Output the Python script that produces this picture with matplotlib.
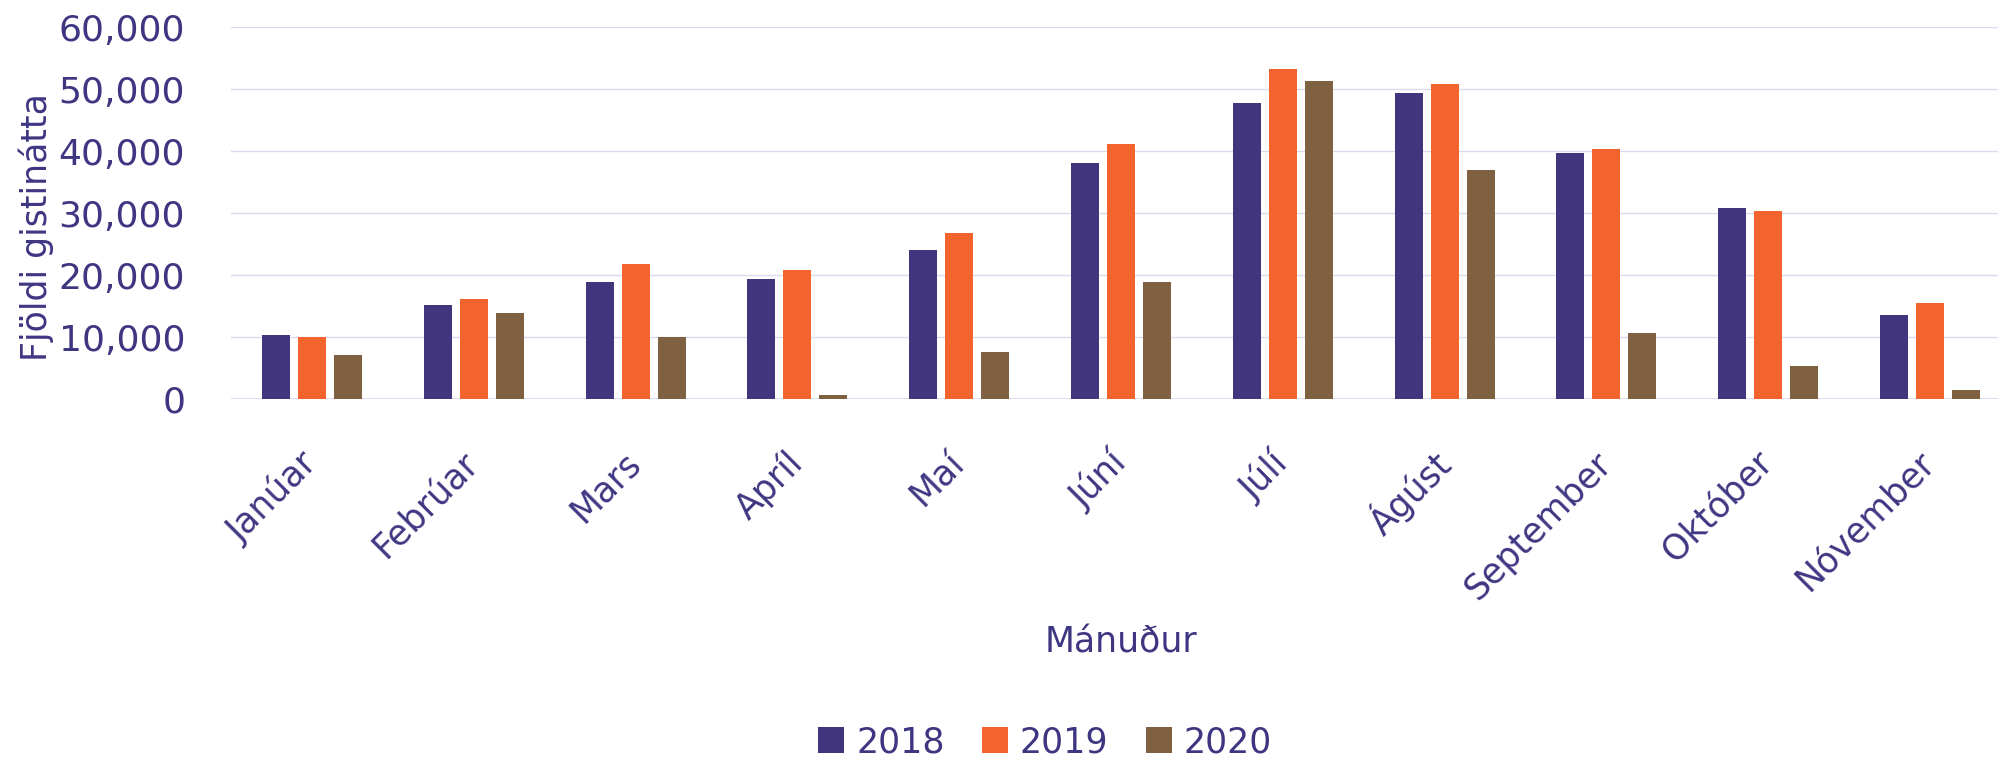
import matplotlib
matplotlib.use("Agg")
import matplotlib.pyplot as plt
import numpy as np
from matplotlib.ticker import FuncFormatter

months = ["Janúar", "Febrúar", "Mars", "Apríl", "Maí", "Júní", "Júlí",
          "Ágúst", "September", "Október", "Nóvember"]
years = ["2018", "2019", "2020"]
v2018 = [10450, 15250, 19000, 19400, 24100, 38100, 47800, 49350, 39700, 30800, 13650]
v2019 = [10100, 16100, 21900, 20900, 26800, 41100, 53200, 50800, 40300, 30400, 15550]
v2020 = [7100, 13900, 10000, 700, 7600, 19000, 51400, 37000, 10650, 5300, 1500]
yticks = [0, 10000, 20000, 30000, 40000, 50000, 60000]

colors = ["#41357D", "#F2632D", "#7F6041"]
text_color = "#3F3682"
grid_color = "#DDDAEE"

plt.rcParams['font.family'] = ['DejaVu Sans']
fs = 25

W, H = 1998, 758
fig = plt.figure(figsize=(W / 100, H / 100), dpi=100)
left_px, right_px = 231, 2011
top_px, bottom_px = 27.3, 399.3
ax = fig.add_axes([left_px / W, 1 - bottom_px / H,
                   (right_px - left_px) / W, (bottom_px - top_px) / H])

x = np.arange(len(months))
step = 0.2225
bw = 0.173
for i, (vals, c, lab) in enumerate(zip([v2018, v2019, v2020], colors, years)):
    ax.bar(x + (i - 1) * step, vals, width=bw, color=c, label=lab, zorder=3)

ax.set_xlim(-0.5, len(months) - 0.5)
ax.set_ylim(0, 60000)
ax.set_yticks(yticks)
ax.yaxis.set_major_formatter(FuncFormatter(lambda v, p: f"{int(v):,}"))
ax.grid(axis='y', color=grid_color, linewidth=1.0, zorder=0)
ax.set_axisbelow(True)
for s in ax.spines.values():
    s.set_visible(False)
ax.axhline(0, color=grid_color, linewidth=1.3, zorder=1)

ax.tick_params(axis='y', length=0, pad=33, labelsize=26, labelcolor=text_color)
ax.tick_params(axis='x', length=0, pad=42, labelsize=fs, labelcolor=text_color)
ax.set_xticks(x)
ax.set_xticklabels(months, rotation=45, ha='right', va='center', rotation_mode='anchor')

ax.set_xlabel("Mánuður", fontsize=fs, color=text_color)
ax.xaxis.set_label_coords(0.5, -0.655)
ax.xaxis.label.set_va('center')
ax.set_ylabel("Fjöldi gistinátta", fontsize=fs, color=text_color)
ax.yaxis.set_label_coords(-0.1096, 0.462)
ax.yaxis.label.set_va('center')

leg = fig.legend(loc='center', bbox_to_anchor=(0.523, 0.021), ncol=3, frameon=False,
                 fontsize=fs, labelcolor=text_color, handlelength=0.75, handleheight=0.75,
                 handletextpad=0.35, columnspacing=1.07, borderpad=0)

fig.savefig("out.png", dpi=100)
